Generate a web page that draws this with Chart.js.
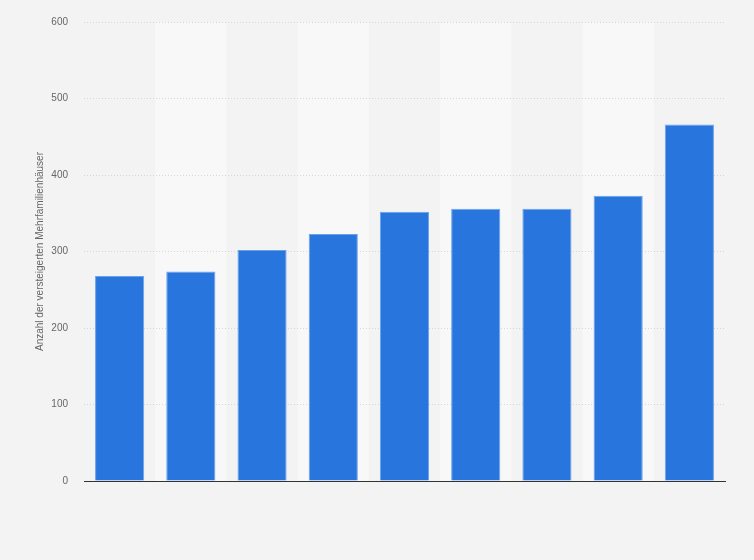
<!DOCTYPE html>
<html>
<head>
<meta charset="utf-8">
<script src="https://cdn.jsdelivr.net/npm/chart.js@4.4.0/dist/chart.umd.min.js"></script>
<style>
  html, body { margin: 0; padding: 0; background: #f3f3f3; }
  #wrap { width: 754px; height: 560px; }
</style>
</head>
<body>
<div id="wrap"><canvas id="myChart" width="754" height="560"></canvas></div>
<script>
// no category labels are shown in the picture
let labels = ['', '', '', '', '', '', '', '', ''];
let auctions = [268, 274, 302, 323, 352, 356, 356, 373, 466];
let yTicks = [0, 100, 200, 300, 400, 500, 600];

// lighter background on every second column, under the grid lines
const bands = {
  id: 'bands',
  beforeDraw(chart) {
    const { ctx, chartArea, scales } = chart;
    const x = scales.x;
    const w = (chartArea.right - chartArea.left) / labels.length;
    ctx.save();
    ctx.fillStyle = '#f8f8f8';
    for (let i = 1; i < labels.length; i += 2) {
      let c = x.getPixelForValue(i);
      ctx.fillRect(c - w / 2, chartArea.top, w, chartArea.bottom - chartArea.top);
    }
    ctx.restore();
  }
};

var ctx = document.getElementById('myChart').getContext('2d');
var myChart = new Chart(ctx, {
  type: 'bar',
  data: {
    labels: labels,
    datasets: [{
      label: 'Anzahl der versteigerten Mehrfamilienhäuser',
      data: auctions,
      backgroundColor: '#2876dd',
      borderColor: '#6aa2ea',
      borderWidth: 1,
      barPercentage: 0.69,
      categoryPercentage: 1
    }]
  },
  plugins: [bands],
  options: {
    responsive: false,
    animation: false,
    layout: { padding: { left: 30, right: 29, top: 12, bottom: 71 } },
    plugins: {
      legend: { display: false },
      tooltip: { enabled: false }
    },
    scales: {
      x: {
        ticks: { display: false },
        grid: { display: false },
        border: { display: true, color: '#333333', width: 1 }
      },
      y: {
        min: 0,
        max: 600,
        afterFit(scale) { scale.width = 54; },
        afterBuildTicks(scale) { scale.ticks = yTicks.map(v => ({ value: v })); },
        ticks: {
          padding: 16,
          color: '#666666',
          font: { family: '"Liberation Sans", Arial, sans-serif', size: 10 }
        },
        grid: {
          drawTicks: false,
          color: '#d6d6d6',
          lineWidth: 1
        },
        border: { display: false, dash: [1, 2] },
        title: {
          display: true,
          text: 'Anzahl der versteigerten Mehrfamilienhäuser',
          color: '#666666',
          font: { family: '"Liberation Sans", Arial, sans-serif', size: 10 }
        }
      }
    }
  }
});
</script>
</body>
</html>
